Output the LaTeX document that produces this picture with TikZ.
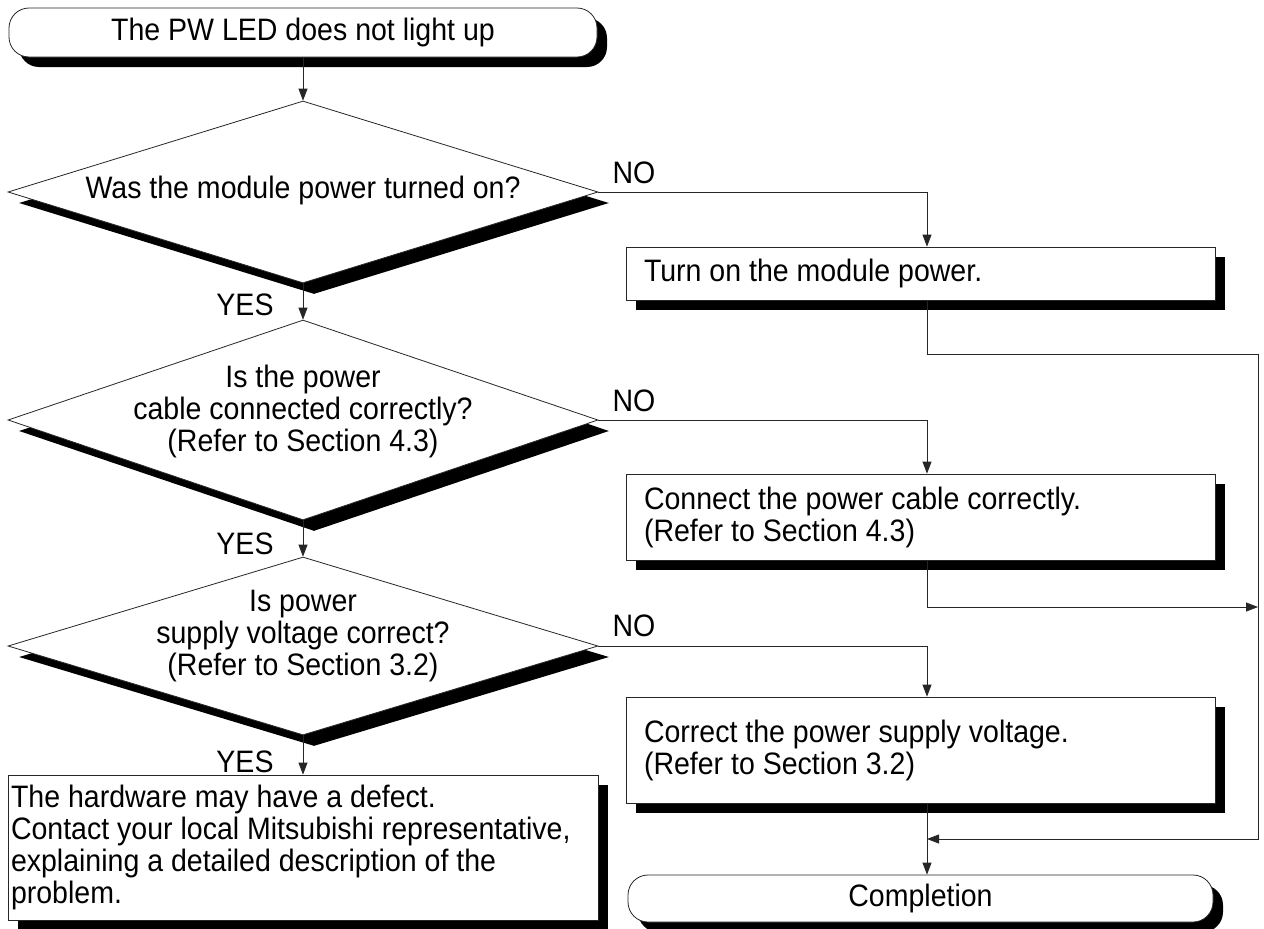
\documentclass[tikz,border=0pt]{standalone}
\usepackage{fontspec}
\setmainfont{Liberation Sans}[FakeStretch=0.92]
\usetikzlibrary{shapes.geometric,arrows.meta,shadows}
\begin{document}
\begin{tikzpicture}[x=1pt,y=-1pt,
  font=\fontsize{31}{32}\selectfont,
  shad/.style={drop shadow={shadow xshift=10pt,shadow yshift=-10pt,opacity=1,fill=black}},
  dshad/.style={drop shadow={shadow xshift=11pt,shadow yshift=-11pt,opacity=1,fill=black}},
  term/.style={draw=black!85,line width=0.8pt,fill=white,rounded corners=20pt,shad,inner sep=0pt,align=center},
  proc/.style={draw=black!85,line width=0.8pt,fill=white,shad,inner ysep=0pt,align=left,
    execute at begin node={\spaceskip=0pt\xspaceskip=0pt\relax}},
  dec/.style={diamond,draw=black!85,line width=0.8pt,fill=white,dshad,inner sep=0pt},
  conn/.style={draw=black!85,line width=0.8pt},
  arr/.style={conn,-{Triangle[length=12pt,width=9pt]}},
  lbl/.style={inner sep=0pt,align=center},
]
\useasboundingbox[fill=white] (0,0) rectangle (1264,929);

% left column
\node[term,minimum width=588pt,minimum height=49pt] (start) at (303,32.5) {The PW LED does not light up};
\node[dec,minimum width=590pt,minimum height=182pt] (d1) at (303,192) {};
\node[lbl] (t1) at (303,190) {Was the module power turned on?};
\node[dec,minimum width=590pt,minimum height=200pt] (d2) at (303,420) {};
\node[lbl] (t2) at (303,411) {Is the power\\cable connected correctly?\\(Refer to Section 4.3)};
\node[dec,minimum width=590pt,minimum height=178pt] (d3) at (303,646) {};
\node[lbl] (t3) at (303,636) {Is power\\supply voltage correct?\\(Refer to Section 3.2)};
\node[proc,minimum width=590pt,minimum height=145pt,inner xsep=3pt,text width=584pt] (hw) at (303,847.5)
  {The hardware may have a defect.\\Contact your local Mitsubishi representative,\\explaining a detailed description of the\\problem.};

% right column
\node[proc,minimum width=589pt,minimum height=53pt,inner xsep=18pt,text width=553pt] (b1) at (920.5,273.5) {Turn on the module power.};
\node[proc,minimum width=589pt,minimum height=86pt,inner xsep=18pt,text width=553pt] (b2) at (920.5,517) {Connect the power cable correctly.\\(Refer to Section 4.3)};
\node[proc,minimum width=589pt,minimum height=106pt,inner xsep=18pt,text width=553pt] (b3) at (920.5,750) {Correct the power supply voltage.\\(Refer to Section 3.2)};
\node[term,minimum width=585pt,minimum height=47pt] (done) at (920.5,898.5) {Completion};

% labels
\node[lbl] (y1) at (245,305) {YES};
\node[lbl] (y2) at (245,544) {YES};
\node[lbl] (y3) at (245,762) {YES};
\node[lbl] (n1) at (634,173) {NO};
\node[lbl] (n2) at (634,401) {NO};
\node[lbl] (n3) at (634,626) {NO};

% helper coordinates
\coordinate (colx) at (927,0);
\coordinate (j1) at (1258,354);
\coordinate (j2) at (1258,607);
\coordinate (j3) at (927,839);

% connectors
\draw[arr] (start.south) -- (d1.north);
\draw[arr] (d1.south) -- (d2.north);
\draw[arr] (d2.south) -- (d3.north);
\draw[arr] (d3.south) -- (hw.north);
\draw[arr] (d1.east) -| (b1.north -| colx);
\draw[arr] (d2.east) -| (b2.north -| colx);
\draw[arr] (d3.east) -| (b3.north -| colx);
\draw[arr] (b1.south -| colx) |- (j1) |- (j3);
\draw[arr] (b2.south -| colx) |- (j2);
\draw[arr] (b3.south -| colx) -- (done.north -| colx);
\end{tikzpicture}
\end{document}
